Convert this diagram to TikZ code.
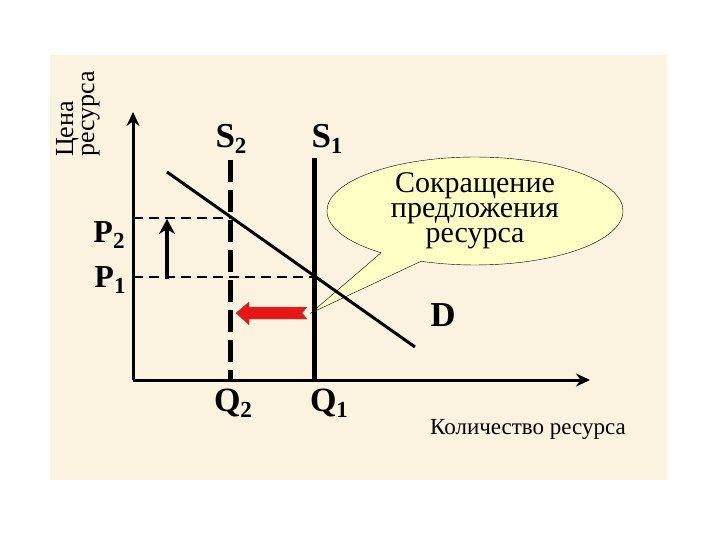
\documentclass[tikz,border=0pt]{standalone}
\usepackage{fontspec}
\setmainfont{Liberation Serif}
\usetikzlibrary{shapes.callouts,arrows.meta}

\definecolor{fondo}{RGB}{251,242,224}
\definecolor{globo}{RGB}{255,255,198}
\definecolor{flecha}{RGB}{232,22,22}

% etiqueta con subindice (S_1, P_2, ...)
\newcommand{\sublbl}[2]{#1\raisebox{-0.4ex}{\fontsize{23}{23}\selectfont #2}}

\begin{document}
\begin{tikzpicture}[x=1pt,y=-1pt, %Grafica oferta
    % Definimos los estilos para no repetir código
    axis/.style={line width=3pt, -{Stealth[length=14pt,width=13pt]}},
    supply/.style={line width=5pt},
    level/.style={line width=2.5pt, dash pattern=on 10pt off 6pt},
    lbl/.style={font=\fontsize{35}{35}\selectfont\bfseries, inner sep=0pt},
    note/.style={ellipse callout, draw, thin, fill=globo, inner sep=0pt,
      minimum width=296pt, minimum height=106pt, callout pointer arc=18,
      align=center, font=\fontsize{30}{25}\selectfont}
  ]
  \useasboundingbox (0,0) rectangle (720,540);
  \fill[fondo] (50,55) rectangle (667,480);

  \coordinate (o) at (133,380);
  \coordinate (ytop) at (133,112);
  \coordinate (xend) at (590,380);
  \coordinate (s1top) at (314,158);
  \coordinate (s1bot) at (314,380);
  \coordinate (s2top) at (230,160);
  \coordinate (s2bot) at (230,380);
  \coordinate (dtop) at (167,172);
  \coordinate (dbot) at (415,347);
  \coordinate (e2) at (230,218);
  \coordinate (e1) at (314,277);
  \coordinate (p2) at (133,218);
  \coordinate (p1) at (133,277);
  \coordinate (up1) at (167,279);
  \coordinate (up2) at (167,219);
  \coordinate (tip) at (311,313);

  \node[note, callout absolute pointer={(tip)}] (globo) at (475,211)
    {Сокращение\\предложения\\ресурса};

  \draw[level] (p2) -- (e2);
  \draw[level] (p1) -- (e1);
  \draw[line width=3pt] (dtop) -- (dbot);
  \draw[supply] (s1top) -- (s1bot);
  \draw[supply, dash pattern=on 22pt off 8pt] (s2top) -- (s2bot);
  \draw[axis] (o) -- (ytop);
  \draw[axis] (o) -- (xend);
  \draw[line width=4pt, -{Stealth[length=15pt,width=16pt]}] (up1) -- (up2);

  % flecha roja
  \filldraw[fill=flecha, draw=black!60, thin] (236,313) -- (249,302) -- (249,307)
    -- (307,307) -- (302,313) -- (307,319) -- (249,319) -- (249,325) -- cycle;

  \node[lbl] (s2) at (231,139) {\sublbl{S}{2}};
  \node[lbl] (s1) at (327,139) {\sublbl{S}{1}};
  \node[lbl, font=\fontsize{32}{32}\selectfont\bfseries] (lp2) at (109,235) {\sublbl{P}{2}};
  \node[lbl, font=\fontsize{32}{32}\selectfont\bfseries] (lp1) at (110,280) {\sublbl{P}{1}};
  \node[lbl, font=\fontsize{34}{34}\selectfont\bfseries] (q2) at (233,403) {\sublbl{Q}{2}};
  \node[lbl, font=\fontsize{34}{34}\selectfont\bfseries] (q1) at (329,403) {\sublbl{Q}{1}};
  \node[lbl] (d) at (443,315) {D};
  \node[anchor=base west, inner sep=0pt, font=\fontsize{23}{23}\selectfont] (xlbl) at (430,434) {Количество ресурса};
  \node[rotate=90, anchor=north west, align=left, inner sep=0pt,
    font=\fontsize{26}{21}\selectfont] (ylbl) at (56,157) {Цена\\ресурса};
\end{tikzpicture}
\end{document}
